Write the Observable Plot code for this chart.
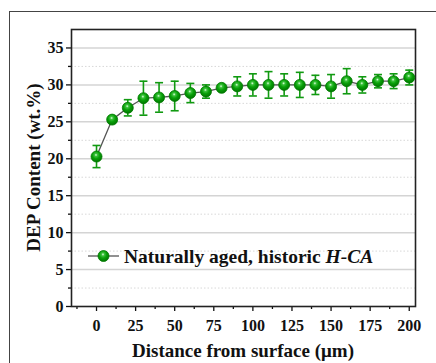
<!DOCTYPE html>
<html>
<head>
<meta charset="utf-8">
<script src="https://cdn.jsdelivr.net/npm/d3@7"></script>
<script src="https://cdn.jsdelivr.net/npm/@observablehq/plot@0.6"></script>
<style>
  html, body { margin: 0; padding: 0; background: #fff; overflow: hidden; }
  #wrap { position: relative; width: 436px; height: 363px; }
  #outer { position: absolute; left: 9px; top: 11px; width: 600px; height: 600px;
           border-left: 1.5px solid #444; border-top: 1.5px solid #444; pointer-events: none; }
</style>
</head>
<body>
<div id="wrap"><div id="outer"></div></div>
<script>
const distance = [0, 10, 20, 30, 40, 50, 60, 70, 80, 90, 100, 110, 120, 130, 140, 150, 160, 170, 180, 190, 200];
const depContent = [20.3, 25.3, 26.9, 28.2, 28.3, 28.5, 28.9, 29.1, 29.6, 29.8, 30.0, 30.0, 30.0, 30.0, 30.0, 29.8, 30.5, 30.0, 30.5, 30.5, 31.0];
const depError = [1.5, 0.4, 1.1, 2.3, 2.0, 2.0, 1.3, 0.9, 0.3, 1.3, 1.5, 1.8, 1.5, 1.7, 1.3, 1.6, 1.7, 1.1, 0.9, 1.0, 1.0];
const xTicks = [0, 25, 50, 75, 100, 125, 150, 175, 200];
const xMinorTicks = [-12.5, 12.5, 37.5, 62.5, 87.5, 112.5, 137.5, 162.5, 187.5];
const yTicks = [0, 5, 10, 15, 20, 25, 30, 35];
const yMinorTicks = [2.5, 7.5, 12.5, 17.5, 22.5, 27.5, 32.5];
const seriesLabel = "Naturally aged, historic ";
const seriesLabelItalic = "H-CA";
const xTitle = "Distance from surface (μm)";
const yTitle = "DEP Content (wt.%)";

const data = distance.map((d, i) => ({x: d, y: depContent[i], lo: depContent[i] - depError[i], hi: depContent[i] + depError[i]}));

const FONT = '"Liberation Serif", "Times New Roman", serif';
const GREEN = "#119a11";

const capSymbol = {
  draw(context, size) {
    const w = Math.sqrt(size / Math.PI);
    context.moveTo(-w, 0);
    context.lineTo(w, 0);
  }
};

const plot = Plot.plot({
  width: 436,
  height: 363,
  marginLeft: 71,
  marginRight: 21,
  marginTop: 29,
  marginBottom: 57,
  style: {fontFamily: FONT, fontWeight: "bold", background: "transparent", overflow: "visible"},
  x: {domain: [-16, 204]},
  y: {domain: [0, 37.5]},
  marks: [
    Plot.ruleY(yMinorTicks, {stroke: "#d8d8d8", strokeWidth: 1, strokeDasharray: "1.5,2"}),
    Plot.ruleY(yTicks.filter(t => t > 0), {stroke: "#d4d4d4", strokeWidth: 1.5}),
    Plot.axisY({ticks: yTicks, tickSize: 5, tickPadding: 3, fontSize: 16, fontWeight: "bold", fill: "#111", stroke: "#111", strokeWidth: 1.3, label: null}),
    Plot.axisY({ticks: yMinorTicks, tickSize: 3, tickFormat: () => "", stroke: "#111", strokeWidth: 1.3, label: null}),
    Plot.axisX({ticks: xTicks, tickSize: 5, tickPadding: 8, fontSize: 16, fontWeight: "bold", fill: "#111", stroke: "#111", strokeWidth: 1.3, label: null}),
    Plot.axisX({ticks: xMinorTicks, tickSize: 3, tickFormat: () => "", stroke: "#111", strokeWidth: 1.3, label: null}),
    Plot.frame({stroke: "#222", strokeWidth: 1.6}),
    Plot.line(data, {x: "x", y: "y", stroke: "#555", strokeWidth: 1.3}),
    Plot.ruleX(data, {x: "x", y1: "lo", y2: "hi", stroke: GREEN, strokeWidth: 1.6}),
    Plot.dot(data, {x: "x", y: "lo", symbol: capSymbol, r: 4, stroke: GREEN, strokeWidth: 1.6}),
    Plot.dot(data, {x: "x", y: "hi", symbol: capSymbol, r: 4, stroke: GREEN, strokeWidth: 1.6}),
    Plot.dot(data, {x: "x", y: "y", r: 5.5, fill: "url(#ball)", stroke: "#007a00", strokeWidth: 0.8})
  ]
});

// gradient for the glossy markers
const svg = d3.select(plot);
const defs = svg.insert("defs", ":first-child");
const grad = defs.append("radialGradient").attr("id", "ball").attr("cx", "45%").attr("cy", "38%").attr("r", "60%").attr("fx", "45%").attr("fy", "35%");
grad.append("stop").attr("offset", "0%").attr("stop-color", "#e8ffe8");
grad.append("stop").attr("offset", "22%").attr("stop-color", "#3cc23c");
grad.append("stop").attr("offset", "55%").attr("stop-color", "#09a009");
grad.append("stop").attr("offset", "100%").attr("stop-color", "#007800");

// axis titles
svg.append("text")
  .attr("x", (71 + 415) / 2).attr("y", 357)
  .attr("text-anchor", "middle")
  .style("font-family", FONT).style("font-weight", "bold").style("font-size", "19px").attr("fill", "#111")
  .text(xTitle);
svg.append("text")
  .attr("transform", `translate(40, ${(29 + 306) / 2}) rotate(-90)`)
  .attr("text-anchor", "middle")
  .style("font-family", FONT).style("font-weight", "bold").style("font-size", "19px").attr("fill", "#111")
  .text(yTitle);

// legend inside the plot
const lg = svg.append("g").attr("transform", "translate(88, 256)");
lg.append("line").attr("x1", 0).attr("x2", 31).attr("y1", 0).attr("y2", 0).attr("stroke", "#555").attr("stroke-width", 1.3);
lg.append("circle").attr("cx", 15.5).attr("cy", 0).attr("r", 5.5).attr("fill", "url(#ball)").attr("stroke", "#007a00").attr("stroke-width", 0.8);
const lt = lg.append("text").attr("x", 36).attr("y", 0).attr("dy", "0.35em").attr("text-anchor", "start")
  .style("font-family", FONT).style("font-weight", "bold").style("font-size", "19.5px").attr("fill", "#111");
lt.append("tspan").text(seriesLabel);
lt.append("tspan").style("font-style", "italic").text(seriesLabelItalic);

document.getElementById("wrap").prepend(plot);
plot.style.position = "absolute";
plot.style.left = "0px";
plot.style.top = "0px";
</script>
</body>
</html>
